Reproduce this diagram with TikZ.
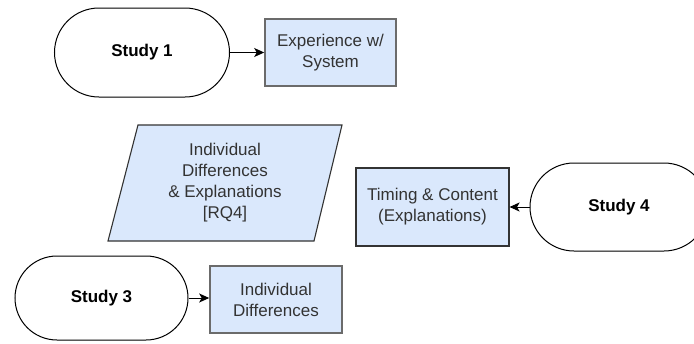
\documentclass[tikz,border=0pt]{standalone}
\usepackage{fontspec}
\setmainfont{Liberation Sans}
\usetikzlibrary{shapes.misc,arrows.meta}
\definecolor{boxfill}{HTML}{DAE8FC}
\definecolor{boxline}{HTML}{6B6B6B}
\definecolor{darkline}{HTML}{333333}
\definecolor{boxtext}{HTML}{333333}
\tikzset{
  study/.style={rounded rectangle, draw=black, line width=1pt, fill=white,
    font=\fontsize{17}{21}\selectfont\bfseries, inner sep=0pt},
  topic/.style={rectangle, draw=boxline, line width=1.6pt, fill=boxfill,
    align=center, text=boxtext, font=\fontsize{17}{21}\selectfont, inner sep=0pt},
  topicdark/.style={topic, draw=darkline, line width=1.1pt},
  flow/.style={-{Stealth[length=10pt,width=9pt,inset=2.5pt]}, line width=1pt, black}
}
\begin{document}
\begin{tikzpicture}[x=1pt,y=-1pt]
\useasboundingbox (0,0) rectangle (694,343);
\clip (0,0) rectangle (694,343);

% top row
\node[study, minimum width=175pt, minimum height=89pt] (s1) at (142,52.5) {Study 1};
\node[topic, minimum width=131pt, minimum height=67pt] (b1) at (330.5,52.5) {Experience w/\\System};
\draw[flow] (s1.east) -- (b1.west);

% parallelogram
\draw[draw=darkline, line width=1.1pt, fill=boxfill]
  (138,125) -- (342,125) -- (314,241) -- (108,241) -- cycle;
\node[align=center, text=boxtext, font=\fontsize{17}{21}\selectfont] (pg) at (225,183)
  {Individual\\Differences\\\& Explanations\\{}[RQ4]};

% middle right
\node[topicdark, minimum width=153pt, minimum height=78pt] (b4) at (432.5,207) {Timing \& Content\\(Explanations)};
\node[study, minimum width=178pt, minimum height=88pt] (s4) at (619,207) {Study 4};
\draw[flow] (s4.west) -- (b4.east);

% bottom row
\node[study, minimum width=173pt, minimum height=84pt] (s3) at (101.5,298) {Study 3};
\node[topic, minimum width=132pt, minimum height=67pt] (b3) at (276,299.5) {Individual\\Differences};
\draw[flow] (s3.east) -- (s3.east -| b3.west);
\end{tikzpicture}
\end{document}
